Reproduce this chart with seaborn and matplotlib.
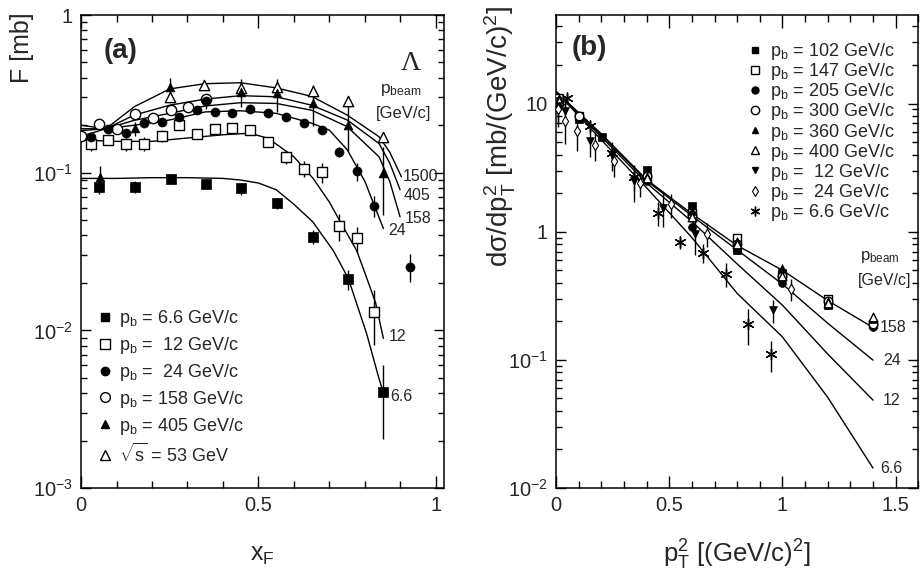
import numpy as np
import pandas as pd
import matplotlib
matplotlib.use('Agg')
import matplotlib.pyplot as plt
import seaborn as sns
from matplotlib.lines import Line2D
from matplotlib.ticker import FixedLocator, FixedFormatter, MultipleLocator, LogLocator, NullFormatter

# ---------------- Panel (a): F(xF) ----------------
a66_x = [0.052, 0.152, 0.254, 0.351, 0.451, 0.552, 0.653, 0.753, 0.852]
a66_y = [0.081, 0.0814, 0.0906, 0.0843, 0.0795, 0.0638, 0.0392, 0.0211, 0.00404]
a66_e = [0.008, 0.007, 0.006, 0.006, 0.007, 0.005, 0.004, 0.003, 0.002]

a12_x = [0.027, 0.077, 0.127, 0.177, 0.227, 0.277, 0.326, 0.377, 0.426, 0.477,
         0.528, 0.578, 0.627, 0.678, 0.728, 0.777, 0.826]
a12_y = [0.152, 0.161, 0.152, 0.153, 0.171, 0.201, 0.177, 0.188, 0.192, 0.187,
         0.157, 0.126, 0.106, 0.101, 0.046, 0.0383, 0.0131]
a12_e = [0.015, 0.012, 0.015, 0.015, 0.015, 0.015, 0.012, 0.013, 0.015, 0.013,
         0.012, 0.012, 0.012, 0.015, 0.009, 0.007, 0.005]

a24_x = [0.027, 0.077, 0.127, 0.177, 0.227, 0.277, 0.326, 0.351, 0.377, 0.426, 0.477,
         0.528, 0.578, 0.627, 0.678, 0.728, 0.777, 0.826, 0.927]
a24_y = [0.169, 0.188, 0.178, 0.206, 0.210, 0.226, 0.249, 0.285, 0.243, 0.238, 0.253,
         0.238, 0.224, 0.206, 0.186, 0.135, 0.102, 0.0617, 0.0253]
a24_e = [0.010, 0.010, 0.010, 0.010, 0.010, 0.010, 0.010, 0.030, 0.010, 0.010, 0.010,
         0.010, 0.010, 0.010, 0.010, 0.010, 0.013, 0.009, 0.005]

a158_x = [0.0, 0.051, 0.102, 0.153, 0.203, 0.253, 0.302, 0.351]
a158_y = [0.171, 0.205, 0.188, 0.234, 0.222, 0.249, 0.260, 0.292]

a405_x = [0.054, 0.152, 0.251, 0.451, 0.552, 0.653, 0.753, 0.852]
a405_y = [0.094, 0.191, 0.348, 0.326, 0.318, 0.278, 0.200, 0.100]
a405_e = [0.017, 0.020, 0.050, 0.065, 0.075, 0.080, 0.063, 0.046]

a53_x = [0.251, 0.347, 0.451, 0.552, 0.653, 0.753, 0.852]
a53_y = [0.303, 0.360, 0.343, 0.348, 0.331, 0.286, 0.168]

# model curves panel (a)
c1500_x = [0.0, 0.07, 0.15, 0.25, 0.35, 0.45, 0.55, 0.65, 0.75, 0.84, 0.87, 0.903]
c1500_y = [0.20, 0.19, 0.262, 0.34, 0.367, 0.372, 0.345, 0.305, 0.232, 0.169, 0.135, 0.094]
c405_x = [0.0, 0.07, 0.15, 0.25, 0.35, 0.45, 0.55, 0.65, 0.75, 0.84, 0.87, 0.899]
c405_y = [0.19, 0.19, 0.232, 0.268, 0.293, 0.308, 0.303, 0.268, 0.216, 0.153, 0.115, 0.078]
c158_x = [0.0, 0.07, 0.15, 0.25, 0.35, 0.45, 0.55, 0.65, 0.75, 0.84, 0.87, 0.899]
c158_y = [0.185, 0.19, 0.215, 0.238, 0.265, 0.278, 0.275, 0.249, 0.196, 0.126, 0.088, 0.0525]
c24_x = [0.0, 0.07, 0.15, 0.25, 0.35, 0.45, 0.55, 0.65, 0.70, 0.75, 0.80, 0.852]
c24_y = [0.17, 0.19, 0.20, 0.216, 0.243, 0.247, 0.238, 0.206, 0.186, 0.14, 0.088, 0.0443]
c12_x = [0.0, 0.1, 0.2, 0.3, 0.4, 0.476, 0.528, 0.6, 0.654, 0.7, 0.728, 0.777, 0.805, 0.83, 0.852]
c12_y = [0.161, 0.158, 0.158, 0.166, 0.174, 0.178, 0.165, 0.126, 0.092, 0.065, 0.05, 0.032, 0.0215, 0.015, 0.0089]
c66_x = [0.0, 0.1, 0.2, 0.3, 0.4, 0.45, 0.5, 0.55, 0.6, 0.653, 0.711, 0.753, 0.805, 0.838, 0.852]
c66_y = [0.092, 0.092, 0.093, 0.093, 0.092, 0.0898, 0.086, 0.078, 0.063, 0.0488, 0.032, 0.0214, 0.0095, 0.0051, 0.004]

curve_labels_a = ['1500', '405', '158', '24', '12', '6.6']
legend_a = ['p$_\\mathregular{b}$ = 6.6 GeV/c', 'p$_\\mathregular{b}$ =  12 GeV/c',
            'p$_\\mathregular{b}$ =  24 GeV/c', 'p$_\\mathregular{b}$ = 158 GeV/c',
            'p$_\\mathregular{b}$ = 405 GeV/c', '$\\sqrt{\\mathregular{s}}$ = 53 GeV']

# ---------------- Panel (b): dsigma/dpT2 ----------------
b102_x = [0.012, 0.102, 0.202, 0.40, 0.599, 0.798, 0.998, 1.20]
b102_y = [10.5, 7.6, 5.5, 3.03, 1.59, 0.72, 0.48, 0.267]
b147_x = [0.012, 0.10, 0.40, 0.60, 0.80, 1.00, 1.20, 1.40]
b147_y = [11.0, 8.0, 2.6, 1.4, 0.89, 0.45, 0.30, 0.19]
b205_x = [0.012, 0.10, 0.40, 0.60, 0.80, 1.00, 1.20, 1.40]
b205_y = [10.0, 8.0, 2.5, 1.08, 0.72, 0.40, 0.27, 0.179]
b300_x = [0.012, 0.10, 0.40, 0.60, 0.80, 1.00, 1.20, 1.40]
b300_y = [10.5, 8.0, 2.7, 1.35, 0.80, 0.45, 0.29, 0.19]
b360_x = [0.012, 0.40, 0.60, 0.80, 1.00, 1.20, 1.40]
b360_y = [11.0, 2.7, 1.45, 0.85, 0.52, 0.29, 0.21]
b400_x = [0.012, 0.40, 0.60, 0.80, 1.00, 1.20, 1.40]
b400_y = [10.5, 2.6, 1.3, 0.80, 0.45, 0.28, 0.216]
b12_x = [0.01, 0.04, 0.15, 0.246, 0.344, 0.471, 0.614, 0.96]
b12_y = [9.5, 8.8, 5.1, 4.0, 2.5, 1.53, 0.96, 0.244]
b12_e = [2.5, 2.2, 1.3, 1.0, 0.8, 0.45, 0.30, 0.05]
b24_x = [0.01, 0.04, 0.094, 0.17, 0.257, 0.371, 0.508, 0.665, 1.04]
b24_y = [9.0, 7.3, 6.05, 4.75, 3.58, 2.38, 1.63, 0.96, 0.36]
b24_e = [2.5, 2.5, 1.8, 1.2, 0.9, 0.5, 0.35, 0.2, 0.07]
b66_x = [0.05, 0.15, 0.249, 0.344, 0.452, 0.547, 0.647, 0.75, 0.849, 0.949]
b66_y = [11.1, 6.7, 4.08, 2.66, 1.40, 0.83, 0.685, 0.47, 0.19, 0.111]
b66_e = [1.0, 0.8, 0.5, 0.6, 0.3, 0.1, 0.12, 0.1, 0.06, 0.03]

bc_x = [0.0, 0.2, 0.4, 0.6, 0.8, 1.0, 1.2, 1.4]
bc158_y = [12.4, 5.8, 2.55, 1.38, 0.78, 0.50, 0.29, 0.179]
bc24_y = [12.4, 5.7, 2.5, 1.33, 0.72, 0.39, 0.193, 0.0995]
bc12_y = [12.4, 5.5, 2.4, 1.2, 0.56, 0.267, 0.111, 0.0485]
bc66_y = [12.4, 5.2, 2.2, 0.9, 0.33, 0.151, 0.051, 0.0143]

curve_labels_b = ['158', '24', '12', '6.6']
legend_b = ['p$_\\mathregular{b}$ = 102 GeV/c', 'p$_\\mathregular{b}$ = 147 GeV/c',
            'p$_\\mathregular{b}$ = 205 GeV/c', 'p$_\\mathregular{b}$ = 300 GeV/c',
            'p$_\\mathregular{b}$ = 360 GeV/c', 'p$_\\mathregular{b}$ = 400 GeV/c',
            'p$_\\mathregular{b}$ =  12 GeV/c', 'p$_\\mathregular{b}$ =  24 GeV/c',
            'p$_\\mathregular{b}$ = 6.6 GeV/c']

# ---------------- styling ----------------
sns.set_style('ticks')
plt.rcParams['font.family'] = ['Liberation Sans', 'DejaVu Sans']
plt.rcParams['mathtext.fontset'] = 'custom'
plt.rcParams['mathtext.rm'] = 'Liberation Sans'
plt.rcParams['mathtext.it'] = 'Liberation Sans'
plt.rcParams['mathtext.bf'] = 'Liberation Sans:bold'
plt.rcParams['axes.linewidth'] = 1.1

fig = plt.figure(figsize=(9.23, 5.74), dpi=100)
axa = fig.add_axes([0.0878, 0.1498, 0.3933, 0.824])
axb = fig.add_axes([0.6024, 0.1498, 0.3925, 0.824])

K = 'black'


def scat(ax, x, y, marker, filled, s, lw=1.0):
    if filled:
        sns.scatterplot(x=x, y=y, ax=ax, marker=marker, s=s, color=K, edgecolor=K,
                        linewidth=0.5, zorder=4)
    else:
        sns.scatterplot(x=x, y=y, ax=ax, marker=marker, s=s, color='white', edgecolor=K,
                        linewidth=lw, zorder=4)


def curve(ax, x, y):
    sns.lineplot(x=x, y=y, ax=ax, color=K, linewidth=1.0, sort=False, estimator=None, zorder=2)


def errs(ax, x, y, e):
    ax.errorbar(x, y, yerr=e, fmt='none', ecolor=K, elinewidth=1.0, capsize=0, zorder=3)


# ---- panel a ----
for cx, cy in [(c1500_x, c1500_y), (c405_x, c405_y), (c158_x, c158_y),
               (c24_x, c24_y), (c12_x, c12_y), (c66_x, c66_y)]:
    curve(axa, cx, cy)
errs(axa, a66_x, a66_y, a66_e)
errs(axa, a12_x, a12_y, a12_e)
errs(axa, a24_x, a24_y, a24_e)
errs(axa, a405_x, a405_y, a405_e)
scat(axa, a158_x, a158_y, 'o', False, 55)
scat(axa, a53_x, a53_y, '^', False, 55)
scat(axa, a12_x, a12_y, 's', False, 50)
scat(axa, a24_x, a24_y, 'o', True, 42)
scat(axa, a66_x, a66_y, 's', True, 42)
scat(axa, a405_x, a405_y, '^', True, 40)

axa.set_yscale('log')
axa.set_xlim(0, 1.023)
axa.set_ylim(1e-3, 1)

# curve labels
lab_pos_a = [(0.907, 0.094), (0.908, 0.0713), (0.913, 0.0513), (0.866, 0.0432),
             (0.866, 0.0091), (0.870, 0.00378)]
for t, (px, py) in zip(curve_labels_a, lab_pos_a):
    axa.text(px, py, t, fontsize=11.5, ha='left', va='center')
axa.text(0.90, 0.334, 'p$_\\mathregular{beam}$', fontsize=12.5, ha='center', va='center')
axa.text(0.91, 0.239, '[GeV/c]', fontsize=12, ha='center', va='center')
axa.text(0.065, 0.59, '(a)', fontsize=20, fontweight='bold', ha='left', va='center')
axa.text(0.93, 0.496, '\u039b', fontsize=20, family=['Liberation Serif', 'DejaVu Serif'],
         ha='center', va='center')

handles_a = [Line2D([], [], ls='none', marker='s', ms=6, mfc=K, mec=K),
             Line2D([], [], ls='none', marker='s', ms=7, mfc='white', mec=K),
             Line2D([], [], ls='none', marker='o', ms=6, mfc=K, mec=K),
             Line2D([], [], ls='none', marker='o', ms=7, mfc='white', mec=K),
             Line2D([], [], ls='none', marker='^', ms=6, mfc=K, mec=K),
             Line2D([], [], ls='none', marker='^', ms=7, mfc='white', mec=K)]
axa.legend(handles_a, legend_a, loc='upper left', bbox_to_anchor=(0.025, 0.395),
           frameon=False, fontsize=13, handlelength=0.8, handletextpad=0.4,
           labelspacing=0.32, borderaxespad=0)

axa.xaxis.set_major_locator(FixedLocator([0, 0.5, 1]))
axa.xaxis.set_major_formatter(FixedFormatter(['0', '0.5', '1']))
axa.xaxis.set_minor_locator(MultipleLocator(0.1))
axa.yaxis.set_major_locator(FixedLocator([1e-3, 1e-2, 1e-1, 1]))
axa.yaxis.set_major_formatter(FixedFormatter(['$10^{-3}$', '$10^{-2}$', '$10^{-1}$', '1']))
axa.yaxis.set_minor_locator(LogLocator(base=10, subs=np.arange(2, 10), numticks=20))
axa.yaxis.set_minor_formatter(NullFormatter())
axa.set_xlabel('x$_\\mathregular{F}$', fontsize=18, labelpad=20)
axa.set_ylabel('')
fig.text(0.024, 0.978, 'F [mb]', rotation=90, fontsize=18, ha='center', va='top')

# ---- panel b ----
for cy in [bc158_y, bc24_y, bc12_y, bc66_y]:
    curve(axb, bc_x, cy)
errs(axb, b12_x, b12_y, b12_e)
errs(axb, b24_x, b24_y, b24_e)
errs(axb, b66_x, b66_y, b66_e)
scat(axb, b102_x, b102_y, 's', True, 32)
scat(axb, b147_x, b147_y, 's', False, 38)
scat(axb, b205_x, b205_y, 'o', True, 32)
scat(axb, b300_x, b300_y, 'o', False, 38)
scat(axb, b360_x, b360_y, '^', True, 32)
scat(axb, b400_x, b400_y, '^', False, 38)
scat(axb, b12_x, b12_y, 'v', True, 32)
scat(axb, b24_x, b24_y, 'd', False, 28, lw=0.8)
sns.scatterplot(x=b66_x, y=b66_y, ax=axb, marker=(6, 2, 0), s=60, color=K, linewidth=1.0, zorder=4)

axb.set_yscale('log')
axb.set_xlim(0, 1.6)
axb.set_ylim(1e-2, 49)

lab_pos_b = [(1.43, 0.179), (1.445, 0.0995), (1.445, 0.0485), (1.43, 0.0143)]
for t, (px, py) in zip(curve_labels_b, lab_pos_b):
    axb.text(px, py, t, fontsize=11.5, ha='left', va='center')
axb.text(1.43, 0.634, 'p$_\\mathregular{beam}$', fontsize=12, ha='center', va='center')
axb.text(1.45, 0.417, '[GeV/c]', fontsize=11.5, ha='center', va='center')
axb.text(0.07, 27, '(b)', fontsize=20, fontweight='bold', ha='left', va='center')

handles_b = [Line2D([], [], ls='none', marker='s', ms=5, mfc=K, mec=K),
             Line2D([], [], ls='none', marker='s', ms=6, mfc='white', mec=K),
             Line2D([], [], ls='none', marker='o', ms=5, mfc=K, mec=K),
             Line2D([], [], ls='none', marker='o', ms=6, mfc='white', mec=K),
             Line2D([], [], ls='none', marker='^', ms=5, mfc=K, mec=K),
             Line2D([], [], ls='none', marker='^', ms=6, mfc='white', mec=K),
             Line2D([], [], ls='none', marker='v', ms=5, mfc=K, mec=K),
             Line2D([], [], ls='none', marker='d', ms=5, mfc='white', mec=K, mew=0.8),
             Line2D([], [], ls='none', marker=(6, 2, 0), ms=7, mfc=K, mec=K, mew=1)]
axb.legend(handles_b, legend_b, loc='upper left', bbox_to_anchor=(0.51, 0.96),
           frameon=False, fontsize=13, handlelength=0.8, handletextpad=0.4,
           labelspacing=-0.05, borderaxespad=0)

axb.xaxis.set_major_locator(FixedLocator([0, 0.5, 1, 1.5]))
axb.xaxis.set_major_formatter(FixedFormatter(['0', '0.5', '1', '1.5']))
axb.xaxis.set_minor_locator(MultipleLocator(0.1))
axb.yaxis.set_major_locator(FixedLocator([1e-2, 1e-1, 1, 10]))
axb.yaxis.set_major_formatter(FixedFormatter(['$10^{-2}$', '$10^{-1}$', '1', '10']))
axb.yaxis.set_minor_locator(LogLocator(base=10, subs=np.arange(2, 10), numticks=20))
axb.yaxis.set_minor_formatter(NullFormatter())
axb.set_xlabel('p$_\\mathregular{T}^\\mathregular{2}$ [(GeV/c)$^\\mathregular{2}$]', fontsize=18.5, labelpad=16)
axb.set_ylabel('')
fig.text(0.542, 0.99, 'd\u03c3/dp$_\\mathregular{T}^\\mathregular{2}$ [mb/(GeV/c)$^\\mathregular{2}$]',
         rotation=90, fontsize=20, ha='center', va='top')

for ax in (axa, axb):
    ax.tick_params(axis='both', which='both', direction='in', top=True, right=True,
                   labelsize=14.5, width=1.0, color=K, pad=6)
    ax.tick_params(axis='x', which='major', length=9)
    ax.tick_params(axis='x', which='minor', length=5)
    ax.tick_params(axis='y', which='major', length=7)
    ax.tick_params(axis='y', which='minor', length=4)
    for sp in ax.spines.values():
        sp.set_visible(True)
        sp.set_color(K)

fig.savefig('out.png', dpi=100)
